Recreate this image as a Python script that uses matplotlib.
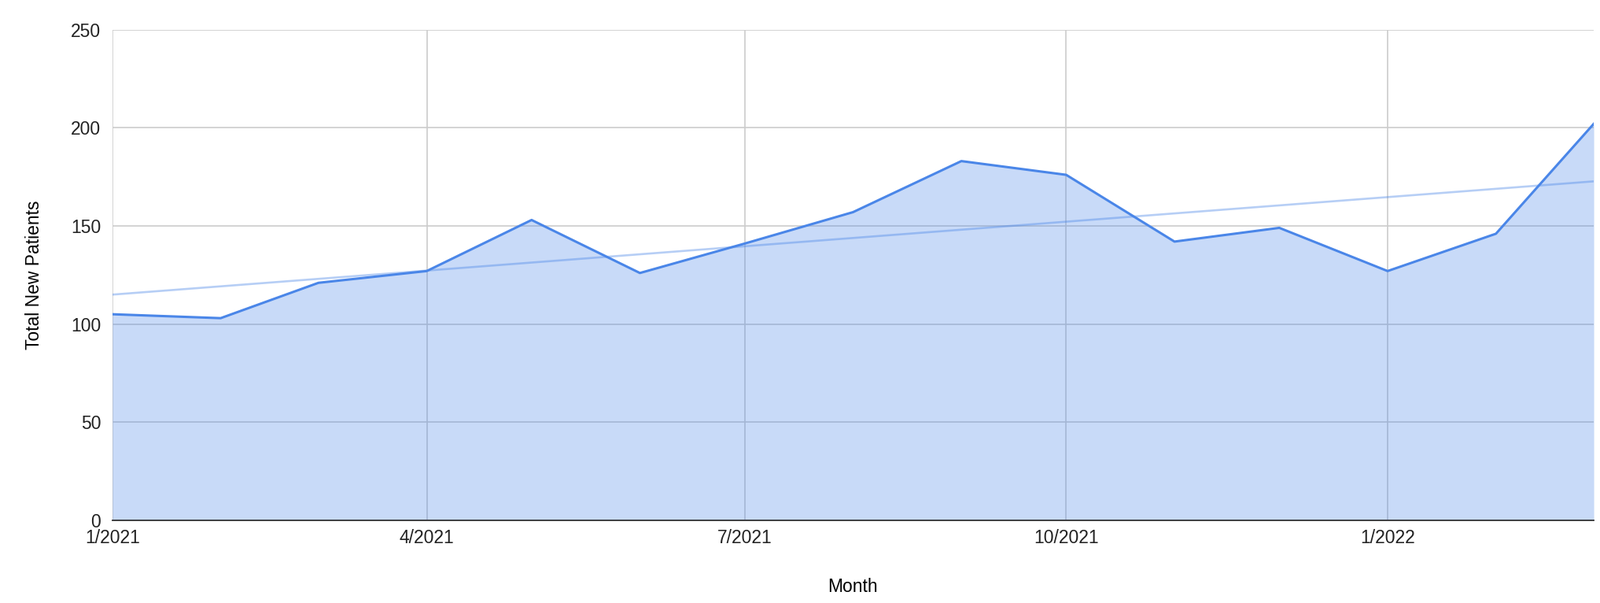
import numpy as np
import pandas as pd
import matplotlib
matplotlib.use("Agg")
import matplotlib.pyplot as plt
import matplotlib.dates as mdates

# 数据: 每月新增病人数
months = pd.date_range("2021-01-01", "2022-03-01", freq="MS")
new_patients = [105, 103, 121, 127, 153, 126, 141, 157, 183, 176, 142, 149, 127, 146, 202]
tick_dates = pd.to_datetime(["2021-01-01", "2021-04-01", "2021-07-01", "2021-10-01", "2022-01-01"])
tick_labels = ["1/2021", "4/2021", "7/2021", "10/2021", "1/2022"]
y_ticks = [0, 50, 100, 150, 200, 250]

LINE = "#4a86e8"
FS = 16.5

plt.rcParams["font.family"] = ["Liberation Sans", "DejaVu Sans"]

fig = plt.figure(figsize=(20.34, 7.66), dpi=100)
ax = fig.add_axes([0.0702, 0.137, 0.9259, 0.814])

x = mdates.date2num(months)
y = np.array(new_patients, dtype=float)

# 线性趋势线
coef = np.polyfit(x, y, 1)
trend = np.polyval(coef, x)

ax.fill_between(x, 0, y, color=LINE, alpha=0.3, linewidth=0, zorder=2)
ax.plot(x, trend, color=LINE, alpha=0.4, linewidth=1.9, zorder=3)
ax.plot(x, y, color=LINE, linewidth=2.2, zorder=4)

ax.set_xlim(x[0], x[-1])
ax.set_ylim(0, 250)
ax.set_yticks(y_ticks)
ax.set_xticks(mdates.date2num(tick_dates))
ax.set_xticklabels(tick_labels)

ax.grid(True, color="#cccccc", linewidth=1.2, zorder=1)
ax.set_axisbelow(True)
for s in ["top", "right", "left"]:
    ax.spines[s].set_visible(False)
ax.spines["bottom"].set_color("#333333")
ax.spines["bottom"].set_linewidth(1.3)
ax.spines["bottom"].set_zorder(5)
ax.tick_params(length=0, labelsize=FS, colors="#222222")
ax.tick_params(axis="y", pad=10.5)
ax.tick_params(axis="x", pad=8)

ax.set_xlabel("Month", fontsize=FS, va="center")
ax.xaxis.set_label_coords(0.5, -0.136)
ax.set_ylabel("Total New Patients", fontsize=FS, ha="center", va="center")
ax.yaxis.set_label_coords(-0.0529, 0.5)

fig.savefig("out.png", dpi=100)
